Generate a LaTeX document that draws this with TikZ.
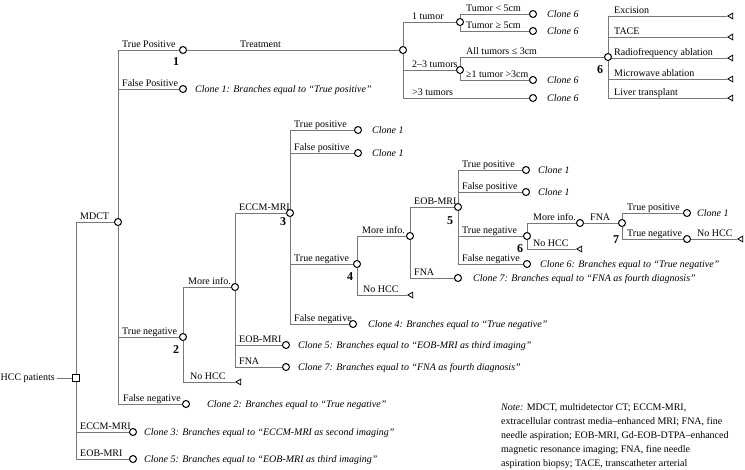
\documentclass[tikz,border=0pt]{standalone}
\usepackage{fontspec}
\setmainfont{Liberation Serif}
\usetikzlibrary{shapes.geometric,backgrounds}
\definecolor{linegray}{RGB}{120,120,120}
\begin{document}
\begin{tikzpicture}[x=1pt,y=-1pt,
  font=\fontsize{10}{12}\selectfont,
  every node/.style={inner sep=0pt},
  chance/.style={circle,draw=black,fill=white,line width=1pt,minimum size=7pt,inner sep=0pt},
  term/.style={regular polygon,regular polygon sides=3,shape border rotate=90,draw=black,fill=white,line width=0.8pt,minimum size=6.5pt,inner sep=0pt,anchor=west},
  dec/.style={rectangle,draw=black,fill=white,line width=1pt,minimum size=7pt},
  edge/.style={draw=linegray,line width=0.8pt},
  lbl/.style={anchor=base west},
  clone/.style={anchor=base west,font=\fontsize{10}{12}\selectfont\itshape},
  num/.style={font=\fontsize{12}{14}\selectfont\bfseries},
]
\useasboundingbox (0,0) rectangle (745,469);

% ---------- nodes ----------
\node[dec] (root) at (76,378) {};
\node[anchor=east,inner xsep=2pt] (hcc) at (57,378) {HCC patients};

\node[chance] (mdct) at (118,222) {};
\node[lbl] (lmdct) at (80,219) {MDCT};
\node[chance] (eccm0) at (133,432) {};
\node[lbl] (leccm0) at (80,429) {ECCM-MRI};
\node[clone] (c3) at (144,435.5) {Clone 3: Branches equal to “ECCM-MRI as second imaging”};
\node[chance] (eob0) at (133,459) {};
\node[lbl] (leob0) at (80,456) {EOB-MRI};
\node[clone] (c5a) at (144,462.5) {Clone 5: Branches equal to “EOB-MRI as third imaging”};

% MDCT children
\node[chance] (n1) at (183,50) {};
\node[lbl] (ln1) at (122,47) {True Positive};
\node[num] (k1) at (176,62) {1};
\node[chance] (fp1) at (183,89) {};
\node[lbl] (lfp1) at (122,86) {False Positive};
\node[clone] (c1a) at (195,92.5) {Clone 1: Branches equal to “True positive”};
\node[chance] (n2) at (183,337) {};
\node[lbl] (ln2) at (122,334) {True negative};
\node[num] (k2) at (176,350) {2};
\node[chance] (fn1) at (186,404) {};
\node[lbl] (lfn1) at (123,401) {False negative};
\node[clone] (c2) at (207,407.5) {Clone 2: Branches equal to “True negative”};

% treatment subtree
\node[chance] (tx) at (403,50) {};
\node[lbl] (ltx) at (240,47) {Treatment};
\node[chance] (t1) at (460,22) {};
\node[lbl] (lt1) at (412,19) {1 tumor};
\node[chance] (t23) at (460,70) {};
\node[lbl] (lt23) at (412,67) {2–3 tumors};
\node[chance] (t3p) at (533,98) {};
\node[lbl] (lt3p) at (412,95) {>3 tumors};
\node[clone] (c6a) at (547,101.5) {Clone 6};
\node[chance] (t1a) at (533,14) {};
\node[lbl] (lt1a) at (466,11) {Tumor < 5cm};
\node[clone] (c6b) at (547,17.5) {Clone 6};
\node[chance] (t1b) at (533,31) {};
\node[lbl] (lt1b) at (466,28) {Tumor ≥ 5cm};
\node[clone] (c6c) at (547,34.5) {Clone 6};
\node[chance] (n6) at (608,57) {};
\node[lbl] (ln6) at (466,54) {All tumors ≤ 3cm};
\node[num] (k6) at (600,70) {6};
\node[chance] (t23b) at (533,80) {};
\node[lbl] (lt23b) at (466,77) {≥1 tumor >3cm};
\node[clone] (c6d) at (547,83.5) {Clone 6};
\node[term] (e1) at (727,16) {};
\node[lbl] (le1) at (614,13) {Excision};
\node[term] (e2) at (727,37) {};
\node[lbl] (le2) at (614,34) {TACE};
\node[term] (e3) at (727,58) {};
\node[lbl] (le3) at (614,55) {Radiofrequency ablation};
\node[term] (e4) at (727,79) {};
\node[lbl] (le4) at (614,76) {Microwave ablation};
\node[term] (e5) at (727,98) {};
\node[lbl] (le5) at (614,95) {Liver transplant};

% node 2 subtree
\node[chance] (mi2) at (235,287) {};
\node[lbl] (lmi2) at (188,284) {More info.};
\node[term] (nh2) at (235,382) {};
\node[lbl] (lnh2) at (190,379) {No HCC};
\node[chance] (n3) at (290,213) {};
\node[lbl] (ln3) at (239,210) {ECCM-MRI};
\node[num] (k3) at (283,222) {3};
\node[chance] (eob2) at (286,345) {};
\node[lbl] (leob2) at (239,342) {EOB-MRI};
\node[clone] (c5b) at (298,348.5) {Clone 5: Branches equal to “EOB-MRI as third imaging”};
\node[chance] (fna2) at (286,367) {};
\node[lbl] (lfna2) at (239,364) {FNA};
\node[clone] (c7a) at (298,370.5) {Clone 7: Branches equal to “FNA as fourth diagnosis”};

% node 3 subtree
\node[chance] (tp3) at (358,130) {};
\node[lbl] (ltp3) at (294,127) {True positive};
\node[clone] (c1b) at (372,133.5) {Clone 1};
\node[chance] (fp3) at (358,153) {};
\node[lbl] (lfp3) at (294,150) {False positive};
\node[clone] (c1c) at (372,156.5) {Clone 1};
\node[chance] (n4) at (357,264) {};
\node[lbl] (ln4) at (294,261) {True negative};
\node[num] (k4) at (350,277) {4};
\node[chance] (fn3) at (353,324) {};
\node[lbl] (lfn3) at (294,321) {False negative};
\node[clone] (c4) at (368,327.5) {Clone 4: Branches equal to “True negative”};

% node 4 subtree
\node[chance] (mi4) at (410,236) {};
\node[lbl] (lmi4) at (362,233) {More info.};
\node[term] (nh4) at (407,295) {};
\node[lbl] (lnh4) at (363,292) {No HCC};
\node[chance] (n5) at (458,207) {};
\node[lbl] (ln5) at (414,204) {EOB-MRI};
\node[num] (k5) at (450,221) {5};
\node[chance] (fna4) at (458,278) {};
\node[lbl] (lfna4) at (414,275) {FNA};
\node[clone] (c7b) at (473,281.5) {Clone 7: Branches equal to “FNA as fourth diagnosis”};

% node 5 subtree
\node[chance] (tp5) at (526,170) {};
\node[lbl] (ltp5) at (462,167) {True positive};
\node[clone] (c1d) at (538,173.5) {Clone 1};
\node[chance] (fp5) at (526,192) {};
\node[lbl] (lfp5) at (462,189) {False positive};
\node[clone] (c1e) at (538,195.5) {Clone 1};
\node[chance] (n6b) at (527,236) {};
\node[lbl] (ln6b) at (462,233) {True negative};
\node[num] (k6b) at (520,249) {6};
\node[chance] (fn5) at (527,264) {};
\node[lbl] (lfn5) at (462,261) {False negative};
\node[clone] (c6e) at (540,267.5) {Clone 6: Branches equal to “True negative”};

% node 6b / 7 subtree
\node[chance] (mi6) at (580,223) {};
\node[lbl] (lmi6) at (533,220) {More info.};
\node[term] (nh6) at (576,249) {};
\node[lbl] (lnh6) at (533,246) {No HCC};
\node[chance] (n7) at (622,223) {};
\node[lbl] (lfna7) at (590,220) {FNA};
\node[num] (k7) at (616,240) {7};
\node[chance] (tp7) at (687,213) {};
\node[lbl] (ltp7) at (627,210) {True positive};
\node[clone] (c1f) at (697,216.5) {Clone 1};
\node[chance] (tn7) at (687,239) {};
\node[lbl] (ltn7) at (627,236) {True negative};
\node[term] (nh7) at (737,239) {};
\node[lbl] (lnh7) at (697,236) {No HCC};

% note
\node[lbl] (note1) at (501,410) {\textit{Note:} MDCT, multidetector CT; ECCM-MRI,};
\node[lbl] (note2) at (501,424) {extracellular contrast media–enhanced MRI; FNA, fine};
\node[lbl] (note3) at (501,438) {needle aspiration; EOB-MRI, Gd-EOB-DTPA–enhanced};
\node[lbl] (note4) at (501,452) {magnetic resonance imaging; FNA, fine needle};
\node[lbl] (note5) at (501,466) {aspiration biopsy; TACE, transcatheter arterial};

% ---------- connectors ----------
\begin{scope}[on background layer]
\draw[edge] (hcc) -- (root);
\draw[edge] (root) |- (mdct);
\draw[edge] (root) |- (eccm0);
\draw[edge] (root) |- (eob0);
\draw[edge] (mdct) |- (n1);
\draw[edge] (mdct) |- (fp1);
\draw[edge] (mdct) |- (n2);
\draw[edge] (mdct) |- (fn1);
\draw[edge] (n1) -- (tx);
\draw[edge] (tx) |- (t1);
\draw[edge] (tx) |- (t23);
\draw[edge] (tx) |- (t3p);
\draw[edge] (t1) |- (t1a);
\draw[edge] (t1) |- (t1b);
\draw[edge] (t23) |- (n6);
\draw[edge] (t23) |- (t23b);
\foreach \e in {e1,e2,e3,e4,e5} \draw[edge] (n6) |- (\e);
\draw[edge] (n2) |- (mi2);
\draw[edge] (n2) |- (nh2);
\draw[edge] (mi2) |- (n3);
\draw[edge] (mi2) |- (eob2);
\draw[edge] (mi2) |- (fna2);
\draw[edge] (n3) |- (tp3);
\draw[edge] (n3) |- (fp3);
\draw[edge] (n3) |- (n4);
\draw[edge] (n3) |- (fn3);
\draw[edge] (n4) |- (mi4);
\draw[edge] (n4) |- (nh4);
\draw[edge] (mi4) |- (n5);
\draw[edge] (mi4) |- (fna4);
\draw[edge] (n5) |- (tp5);
\draw[edge] (n5) |- (fp5);
\draw[edge] (n5) |- (n6b);
\draw[edge] (n5) |- (fn5);
\draw[edge] (n6b) |- (mi6);
\draw[edge] (n6b) |- (nh6);
\draw[edge] (mi6) -- (n7);
\draw[edge] (n7) |- (tp7);
\draw[edge] (n7) |- (tn7);
\draw[edge] (tn7) -- (nh7);
\end{scope}
\end{tikzpicture}
\end{document}
